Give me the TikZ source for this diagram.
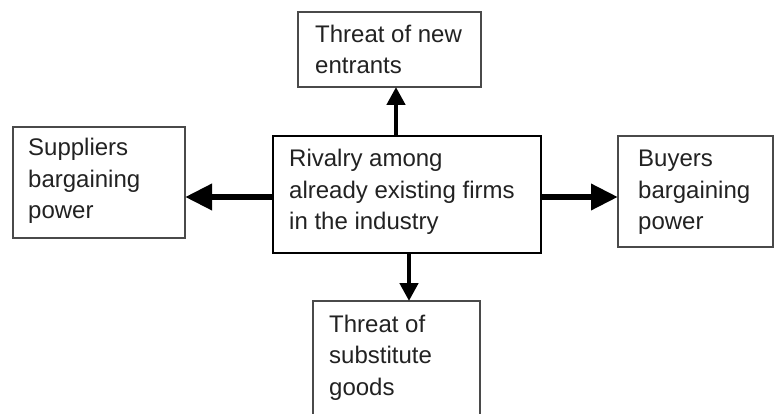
\documentclass[tikz,border=0pt]{standalone}
\usepackage{fontspec}
\setmainfont{Liberation Sans}
\usetikzlibrary{arrows.meta}
\definecolor{boxline}{HTML}{4A4A4A}
\definecolor{ink}{HTML}{222222}
\tikzset{
  box/.style={draw=boxline, line width=1.2pt, rectangle, inner sep=0pt, outer sep=0pt},
  mainbox/.style={box, draw=black},
  % multi-line labels are placed by the baseline of their last line
  txt/.style={anchor=base west, align=left, inner sep=0pt, text=ink,
    font=\fontsize{24}{31.5}\selectfont},
  arrH/.style={line width=6.5pt, -{Triangle[length=27pt,width=25pt]}},
  arrV/.style={line width=4.5pt, -{Triangle[length=18pt,width=18pt]}}
}
\begin{document}
\begin{tikzpicture}[x=1pt,y=-1pt]
  \clip (0,0) rectangle (774,414);
  \fill[white] (0,0) rectangle (774,414);

  % boxes
  \node[box, minimum width=183pt, minimum height=75pt]  (entry) at (389.5,49.5) {};
  \node[box, minimum width=172pt, minimum height=111pt] (suppliers) at (99,182.5) {};
  \node[mainbox, minimum width=268pt, minimum height=117pt] (rival) at (407,194.5) {};
  \node[box, minimum width=155pt, minimum height=111pt] (buyers) at (695.5,191.5) {};
  \node[box, minimum width=167pt, minimum height=139pt] (subst) at (396.5,370.5) {};

  % labels
  \node[txt] (entryText) at (315,74) {Threat of new\\entrants};
  \node[txt] (suppliersText) at (28,219) {Suppliers\\bargaining\\power};
  \node[txt] (rivalText) at (289,230) {Rivalry among\\already existing firms\\in the industry};
  \node[txt] (buyersText) at (638,230) {Buyers\\bargaining\\power};
  \node[txt] (substText) at (329,395) {Threat of\\substitute\\goods};

  % forces acting outward from the rivalry box
  \draw[arrV] ([xshift=-11pt]rival.north) -- ([xshift=-11pt]rival.north |- entry.south);
  \draw[arrV] ([xshift=2pt]rival.south) -- ([xshift=2pt]rival.south |- subst.north);
  \draw[arrH] ([yshift=-2.5pt]rival.west) -- ([yshift=-2.5pt]rival.west -| suppliers.east);
  \draw[arrH] ([yshift=-2.5pt]rival.east) -- ([yshift=-2.5pt]rival.east -| buyers.west);
\end{tikzpicture}
\end{document}
